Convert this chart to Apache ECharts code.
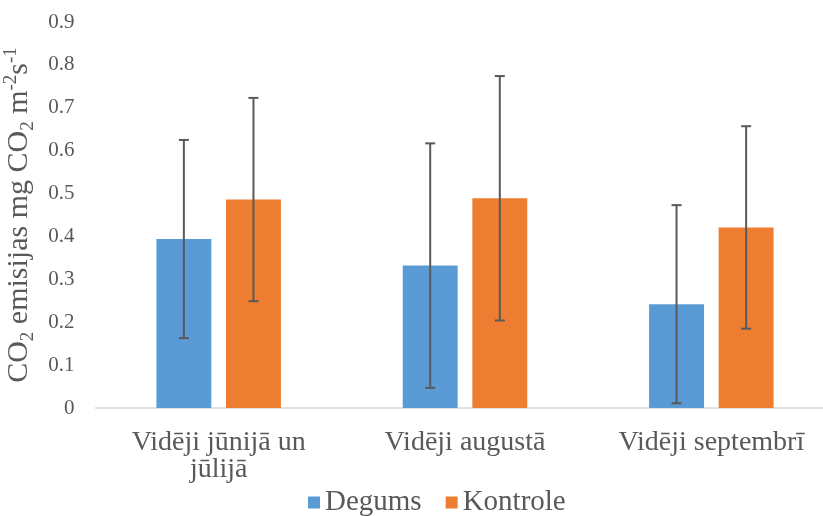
<!DOCTYPE html>
<html>
<head>
<meta charset="utf-8">
<script src="https://cdn.jsdelivr.net/npm/echarts@6/dist/echarts.min.js"></script>
<style>
  html, body { margin: 0; padding: 0; background: #fff; }
  #chart { width: 823px; height: 516px; }
</style>
</head>
<body>
<div id="chart"></div>
<script>
const categories = ['Vidēji jūnijā un\njūlijā', 'Vidēji augustā', 'Vidēji septembrī'];
const seriesNames = ['Degums', 'Kontrole'];
const degums = [0.394, 0.332, 0.242];
const degumsErr = [0.231, 0.285, 0.231];
const kontrole = [0.486, 0.489, 0.421];
const kontroleErr = [0.237, 0.285, 0.236];
const yMin = 0, yMax = 0.9, yStep = 0.1;

const BAR_FRAC = 0.223;
const BAR_GAP = 0.267;
const FONT = '"Liberation Serif", "Times New Roman", serif';
const GREY = '#595959';

function errData(mean, err) {
  return mean.map((m, i) => [i, m - err[i], m + err[i]]);
}
function errSeries(mean, err, sign) {
  return {
    type: 'custom',
    name: 'err' + sign,
    z: 5,
    encode: { x: 0, y: [1, 2] },
    data: errData(mean, err),
    renderItem: function (params, api) {
      const idx = api.value(0);
      const lo = api.coord([idx, api.value(1)]);
      const hi = api.coord([idx, api.value(2)]);
      const bw = api.size([1, 0])[0];
      const off = sign * bw * BAR_FRAC * (1 + BAR_GAP) / 2;
      const x = lo[0] + off;
      const cap = 5;
      const st = { stroke: GREY, lineWidth: 2 };
      return {
        type: 'group',
        children: [
          { type: 'line', shape: { x1: x, y1: lo[1], x2: x, y2: hi[1] }, style: st },
          { type: 'line', shape: { x1: x - cap, y1: hi[1], x2: x + cap, y2: hi[1] }, style: st },
          { type: 'line', shape: { x1: x - cap, y1: lo[1], x2: x + cap, y2: lo[1] }, style: st }
        ]
      };
    }
  };
}

const chart = echarts.init(document.getElementById('chart'), null, { renderer: 'canvas' });
chart.setOption({
  animation: false,
  backgroundColor: '#ffffff',
  grid: { left: 95.5, top: 22, width: 739, height: 386, containLabel: false, outerBoundsMode: 'none' },
  legend: {
    data: seriesNames,
    left: 303,
    top: 483,
    icon: 'rect',
    itemWidth: 12,
    itemHeight: 12,
    itemGap: 24,
    textStyle: { fontFamily: FONT, fontSize: 29, color: GREY, lineHeight: 29 }
  },
  xAxis: {
    type: 'category',
    data: categories,
    axisLine: { show: true, lineStyle: { color: '#d9d9d9', width: 1.5 } },
    axisTick: { show: false },
    axisLabel: {
      interval: 0,
      margin: 21,
      fontFamily: FONT,
      fontSize: 28,
      lineHeight: 27,
      color: GREY
    }
  },
  yAxis: {
    type: 'value',
    min: yMin,
    max: yMax,
    interval: yStep,
    axisLine: { show: false },
    axisTick: { show: false },
    splitLine: { show: false },
    axisLabel: { margin: 21, fontFamily: FONT, fontSize: 21, color: GREY },
    name: '{t|CO}{sub|2}{t| emisijas mg CO}{sub|2}{t| m}{sup|-2}{t|s}{sup|-1}',
    nameLocation: 'middle',
    nameRotate: 90,
    nameGap: 56,
    nameTextStyle: {
      rich: {
        t: { fontFamily: FONT, fontSize: 30, color: GREY, lineHeight: 36 },
        sub: { fontFamily: FONT, fontSize: 19, color: GREY, lineHeight: 19, verticalAlign: 'bottom' },
        sup: { fontFamily: FONT, fontSize: 19, color: GREY, lineHeight: 19, verticalAlign: 'top' }
      }
    }
  },
  series: [
    {
      name: seriesNames[0],
      type: 'bar',
      data: degums,
      barWidth: (BAR_FRAC * 100) + '%',
      barGap: (BAR_GAP * 100) + '%',
      itemStyle: { color: '#5B9BD5' }
    },
    {
      name: seriesNames[1],
      type: 'bar',
      data: kontrole,
      barWidth: (BAR_FRAC * 100) + '%',
      barGap: (BAR_GAP * 100) + '%',
      itemStyle: { color: '#ED7D31' }
    },
    errSeries(degums, degumsErr, -1),
    errSeries(kontrole, kontroleErr, 1)
  ]
});
</script>
</body>
</html>
